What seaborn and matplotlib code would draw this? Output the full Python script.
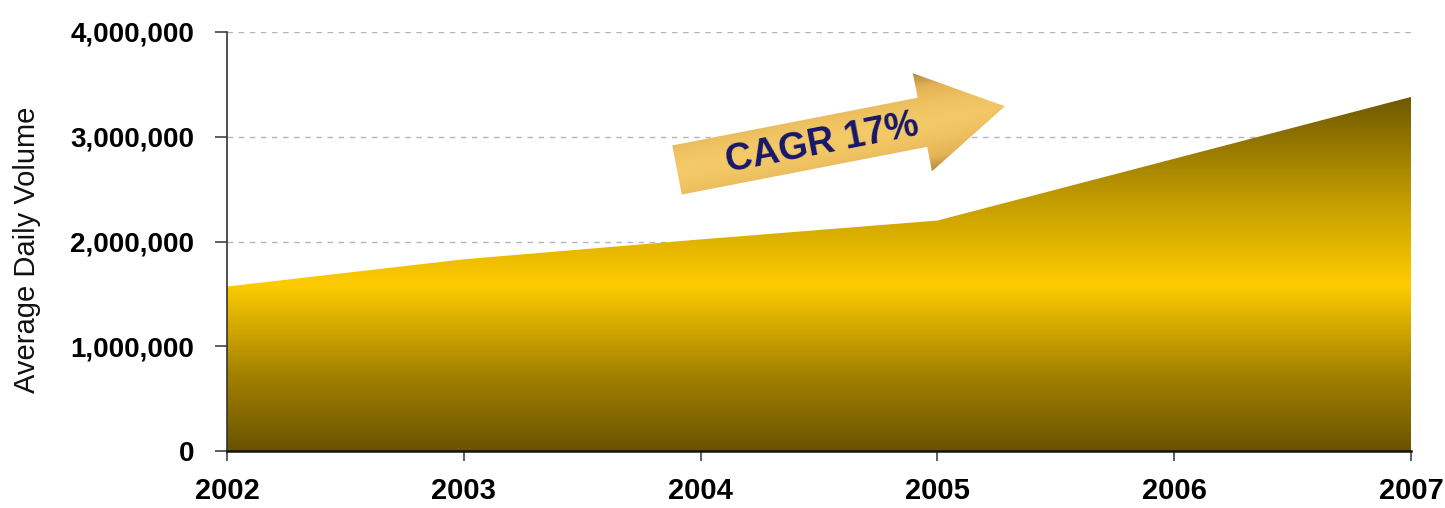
import numpy as np
import matplotlib
matplotlib.use("Agg")
import matplotlib.pyplot as plt
from matplotlib.colors import LinearSegmentedColormap
from matplotlib.patches import Polygon
from matplotlib.ticker import FuncFormatter
import seaborn as sns

# Average daily volume by year
years = [2002, 2003, 2004, 2005, 2006, 2007]
volume = [1_570_000, 1_830_000, 2_020_000, 2_200_000, 2_790_000, 3_380_000]
y_ticks = [0, 1_000_000, 2_000_000, 3_000_000, 4_000_000]
y_label = "Average Daily Volume"
cagr_text = "CAGR 17%"

sns.set_theme(style="white")
plt.rcParams["font.family"] = ["Liberation Sans", "DejaVu Sans"]

W, H = 1445, 508
fig = plt.figure(figsize=(W / 100, H / 100), dpi=100)
ax = fig.add_axes([227 / W, 1 - 451 / H, (1411 - 227) / W, (451 - 32) / H])

# Outline of the area (used as clip path for the gradient fill)
sns.lineplot(x=years, y=volume, ax=ax, linewidth=0, color="#6a5200")
verts = [(years[0], 0)] + list(zip(years, volume)) + [(years[-1], 0)]
area = Polygon(verts, closed=True, facecolor="none", edgecolor="none")
ax.add_patch(area)

# Vertical gold gradient: dark at the base and the top, bright through the middle
gold = LinearSegmentedColormap.from_list(
    "gold", [(0.0, "#6a5300"), (0.22, "#a58300"), (0.47, "#ffcc00"),
             (0.72, "#c09a00"), (1.0, "#6e5800")])
grad = np.linspace(0, 1, 512).reshape(-1, 1)
im = ax.imshow(grad, cmap=gold, origin="lower", aspect="auto",
               extent=(years[0], years[-1], 0, max(volume)), zorder=2,
               interpolation="bicubic")
im.set_clip_path(area)

ax.set_xlim(years[0], years[-1])
ax.set_ylim(y_ticks[0], y_ticks[-1])
ax.set_xticks(years)
ax.set_yticks(y_ticks)
ax.yaxis.set_major_formatter(FuncFormatter(lambda v, p: f"{int(v):,}"))

ax.grid(axis="y", color="#b5b5b5", linestyle=(0, (4, 4)), linewidth=1.0, zorder=0)
ax.grid(axis="x", visible=False)
ax.set_axisbelow(True)

for side in ("top", "right"):
    ax.spines[side].set_visible(False)
ax.spines["left"].set_color("#333333")
ax.spines["left"].set_linewidth(1.2)
ax.spines["bottom"].set_color("#111111")
ax.spines["bottom"].set_linewidth(1.8)
ax.spines["left"].set_zorder(4)
ax.spines["bottom"].set_zorder(4)

ax.tick_params(axis="y", direction="out", length=8.5, width=1.1, color="#333333",
               pad=15, labelsize=20, labelcolor="#000000", left=True)
ax.tick_params(axis="x", direction="out", length=7.5, width=1.1, color="#333333",
               pad=11, labelsize=21, labelcolor="#000000", bottom=True)
for lbl in ax.get_yticklabels() + ax.get_xticklabels():
    lbl.set_fontweight("bold")

ax.set_xlabel("")
ax.set_ylabel("")
fig.text(27 / W, 1 - 250 / H, y_label, rotation=90, ha="center", va="center",
         fontsize=21, color="#111111")

# Overlay in pixel space for the growth arrow
ov = fig.add_axes([0, 0, 1, 1], zorder=5)
ov.set_axis_off()

theta = np.deg2rad(11.0)
u = np.array([np.cos(theta), -np.sin(theta)])
n = np.array([-np.sin(theta), -np.cos(theta)])
c0 = np.array([677.0, 170.0])
length, head_len, body_hw, head_hw = 334.0, 84.0, 25.0, 50.0
base = c0 + (length - head_len) * u
pts = np.array([
    c0 + body_hw * n,
    base + body_hw * n,
    base + head_hw * n,
    c0 + length * u,
    base - head_hw * n,
    base - body_hw * n,
    c0 - body_hw * n,
])
arrow = Polygon(pts, closed=True, facecolor="none", edgecolor="none")
ov.add_patch(arrow)

x0, y0 = pts[:, 0].min() - 2, pts[:, 1].min() - 2
x1, y1 = pts[:, 0].max() + 2, pts[:, 1].max() + 2
xs = np.arange(x0, x1)
ys = np.arange(y0, y1)
XX, YY = np.meshgrid(xs, ys)
rel_x, rel_y = XX - c0[0], YY - c0[1]
s = np.abs(rel_x * n[0] + rel_y * n[1]) / head_hw
t = (rel_x * u[0] + rel_y * u[1]) / length
shade = np.clip(s, 0, 1) ** 1.6 * 0.85 + np.clip(t - 0.7, 0, 1) * 0.25
tan = LinearSegmentedColormap.from_list("tan", ["#f4c968", "#e4b355", "#9a7838"])
img = tan(np.clip(shade, 0, 1))
aim = ov.imshow(img, extent=(x0, x1, y1, y0), origin="upper", aspect="auto",
                interpolation="bilinear")
aim.set_clip_path(arrow)

ov.text(822, 143, cagr_text, rotation=11, rotation_mode="anchor",
        ha="center", va="center", fontsize=27, fontweight="bold", color="#17176b")
ov.set_xlim(0, W)
ov.set_ylim(H, 0)

fig.savefig("out.png", dpi=100, facecolor="white")
